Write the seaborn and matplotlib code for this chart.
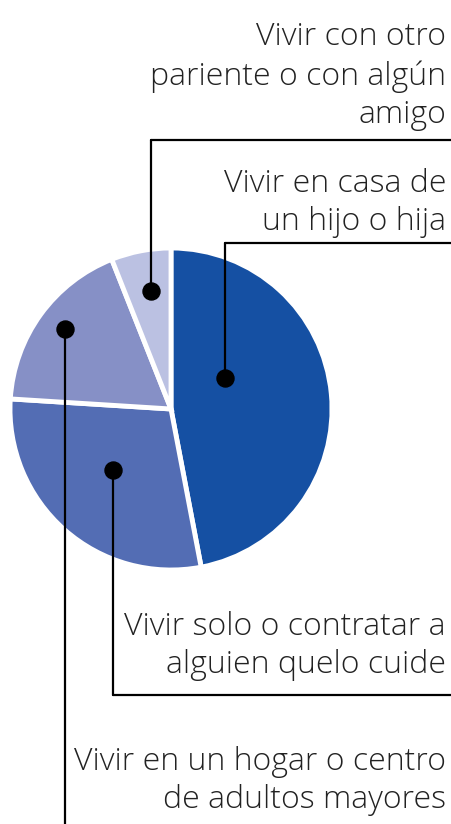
import matplotlib
matplotlib.use("Agg")
import matplotlib.pyplot as plt
import seaborn as sns

# datos
categorias = ["Vivir en casa de\nun hijo o hija",
              "Vivir solo o contratar a\nalguien quelo cuide",
              "Vivir en un hogar o centro\nde adultos mayores",
              "Vivir con otro\npariente o con algún\namigo"]
valores = [47, 29, 18, 6]
colores = ["#1550a3", "#536db4", "#8690c6", "#bbc1e2"]

sns.set_theme(style="white")
plt.rcParams["font.family"] = ["Open Sans", "DejaVu Sans"]

W, H = 451, 824
fig = plt.figure(figsize=(W / 100, H / 100), dpi=100)
ax = fig.add_axes([0, 0, 1, 1])

cx, cy, r = 171, H - 409, 161
ax.pie(valores, colors=colores, startangle=90, counterclock=False,
       center=(cx, cy), radius=r, frame=True,
       wedgeprops=dict(edgecolor="white", linewidth=3.5))

# puntos de anclaje (px), y del codo, linea base del texto
guias = [
    ((225, 378), 243, 230),
    ((113, 470), 695, 673),
    ((65, 329), 830, 808),
    ((151, 291), 140, 123),
]
for (label, ((px, py), yc, yt)) in zip(categorias, guias):
    y0, y1 = H - py, H - yc
    ax.plot([px, px], [y0, y1], color="black", lw=1.6, zorder=3)
    ax.plot([px, W], [y1, y1], color="black", lw=1.6, zorder=3)
    ax.scatter([px], [y0], s=150, color="black", zorder=4)
    ax.text(446, H - yt, label, ha="right", va="baseline", fontsize=23,
            fontweight="light", color="#222222", linespacing=1.27)

ax.set_xlim(0, W)
ax.set_ylim(0, H)
ax.set_aspect("equal")
ax.axis("off")
fig.savefig("out.png", dpi=100, facecolor="white")
